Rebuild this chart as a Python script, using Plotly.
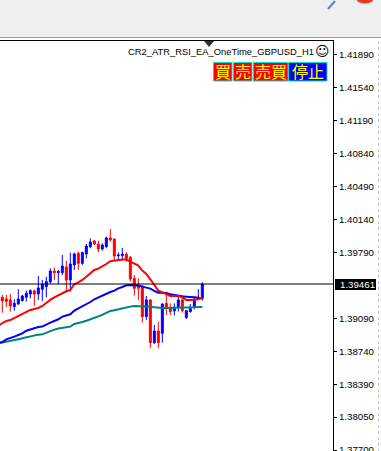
import plotly.graph_objects as go

tick_vals = [1.41890, 1.41540, 1.41190, 1.40840, 1.40490, 1.40140, 1.39790, 1.39090, 1.38740, 1.38390, 1.38050, 1.37700]
last_price = 1.39461
title_text = "CR2_ATR_RSI_EA_OneTime_GBPUSD_H1"

high = [1.39345,1.39345,1.39355,1.39299,1.39405,1.39345,1.39391,1.39405,1.39405,1.39546,
        1.39504,1.39539,1.39627,1.39634,1.39610,1.39769,1.39709,1.39794,1.39794,1.39804,
        1.39804,1.39885,1.39946,1.39928,1.39921,1.39893,1.39963,1.40045,1.39939,1.39797,
        1.39843,1.39797,1.39758,1.39557,1.39521,1.39451,1.39334,1.39299,1.39026,1.39062,
        1.39256,1.39355,1.39256,1.39256,1.39334,1.39320,1.39186,1.39249,1.39320,1.39408,1.39479]
low = [1.39157,1.39214,1.39168,1.39178,1.39239,1.39274,1.39274,1.39309,1.39228,1.39292,
       1.39281,1.39320,1.39468,1.39504,1.39461,1.39557,1.39380,1.39380,1.39610,1.39610,
       1.39663,1.39733,1.39840,1.39875,1.39797,1.39815,1.39840,1.39910,1.39716,1.39723,
       1.39723,1.39698,1.39486,1.39338,1.39292,1.39051,1.39080,1.38779,1.38825,1.38779,
       1.38839,1.39133,1.39133,1.39125,1.39168,1.39157,1.39090,1.39157,1.39193,1.39292,1.39285]
open_ = [1.39320,1.39302,1.39292,1.39221,1.39249,1.39285,1.39320,1.39355,1.39387,1.39355,
         1.39405,1.39433,1.39482,1.39599,1.39581,1.39581,1.39642,1.39504,1.39663,1.39786,
         1.39680,1.39779,1.39857,1.39917,1.39885,1.39832,1.39857,1.39949,1.39939,1.39762,
         1.39762,1.39779,1.39744,1.39521,1.39451,1.39440,1.39115,1.39292,1.38839,1.38963,
         1.38938,1.39256,1.39203,1.39175,1.39214,1.39292,1.39104,1.39168,1.39221,1.39306,1.39309]
close = [1.39281,1.39277,1.39228,1.39256,1.39302,1.39334,1.39362,1.39391,1.39355,1.39419,
         1.39461,1.39486,1.39599,1.39581,1.39592,1.39652,1.39504,1.39673,1.39779,1.39680,
         1.39794,1.39864,1.39907,1.39885,1.39832,1.39875,1.39949,1.39928,1.39758,1.39769,
         1.39779,1.39733,1.39514,1.39415,1.39415,1.39115,1.39292,1.38839,1.38963,1.38839,
         1.39249,1.39214,1.39168,1.39214,1.39292,1.39178,1.39178,1.39200,1.39285,1.39320,1.39461]
# moving averages carry one extra bar on the left, whose candle sits off the chart
ma_red = [1.39020,1.39044,1.39069,1.39079,1.39101,1.39122,1.39140,1.39164,1.39186,1.39196,1.39207,
          1.39228,1.39263,1.39292,1.39320,1.39341,1.39369,1.39384,1.39398,1.39458,1.39479,
          1.39504,1.39539,1.39574,1.39610,1.39624,1.39645,1.39673,1.39702,1.39712,1.39716,
          1.39719,1.39723,1.39698,1.39680,1.39656,1.39603,1.39567,1.39511,1.39451,1.39391,
          1.39373,1.39355,1.39334,1.39334,1.39334,1.39320,1.39292,1.39292,1.39292,1.39299,1.39320]
ma_blue = [1.38835,1.38846,1.38874,1.38885,1.38903,1.38920,1.38938,1.38966,1.38981,1.38991,1.39005,
           1.39009,1.39026,1.39051,1.39069,1.39087,1.39115,1.39125,1.39140,1.39178,1.39200,
           1.39221,1.39246,1.39270,1.39299,1.39320,1.39334,1.39359,1.39376,1.39391,1.39415,
           1.39429,1.39447,1.39451,1.39451,1.39444,1.39433,1.39422,1.39412,1.39387,1.39369,
           1.39369,1.39366,1.39352,1.39345,1.39330,1.39330,1.39327,1.39320,1.39320,1.39316,1.39306]
ma_teal = [1.38832,1.38839,1.38850,1.38860,1.38867,1.38874,1.38885,1.38896,1.38903,1.38917,1.38924,
           1.38927,1.38945,1.38966,1.38977,1.38988,1.38995,1.39002,1.39009,1.39037,1.39044,
           1.39058,1.39072,1.39087,1.39101,1.39111,1.39133,1.39154,1.39175,1.39182,1.39193,
           1.39200,1.39207,1.39221,1.39228,1.39228,1.39228,1.39224,1.39221,1.39214,1.39207,
           1.39207,1.39207,1.39207,1.39207,1.39210,1.39210,1.39210,1.39214,1.39214,1.39217,1.39217]

x = list(range(len(close)))
ma_x = list(range(-1, len(close)))
BLUE, RED, TEAL = "#0000ff", "#ff0000", "#008080"
FONT = "Liberation Sans"

W, H = 381, 451
L, R, T, B = 0, 333, 41, 451
def px(v): return (v - L) / (R - L)
def py(v): return (B - v) / (B - T)

fig = go.Figure()
fig.add_trace(go.Candlestick(
    x=x, open=open_, high=high, low=low, close=close,
    increasing=dict(line=dict(color=BLUE, width=1), fillcolor=BLUE),
    decreasing=dict(line=dict(color=RED, width=1), fillcolor=RED),
    whiskerwidth=0, hoverinfo="skip", showlegend=False))
for vals, col in ((ma_teal, TEAL), (ma_blue, BLUE), (ma_red, RED)):
    fig.add_trace(go.Scatter(x=ma_x, y=vals, mode="lines", line=dict(color=col, width=2),
                             hoverinfo="skip", showlegend=False))

shapes = [
    dict(type="rect", xref="paper", yref="paper", x0=0, x1=px(W), y0=py(0), y1=py(37),
         fillcolor="#efefef", line=dict(width=0), layer="below"),
    dict(type="line", xref="paper", yref="paper", x0=0, x1=px(W), y0=py(37.5), y1=py(37.5),
         line=dict(color="#a0a0a0", width=1)),
    dict(type="line", xref="paper", yref="y", x0=0, x1=1, y0=last_price, y1=last_price,
         line=dict(color="#000000", width=1)),
    dict(type="rect", xref="paper", yref="paper", x0=px(335), x1=px(376), y0=py(279), y1=py(290),
         fillcolor="#000000", line=dict(width=0)),
    dict(type="line", xref="paper", yref="paper", x0=px(378.5), x1=px(378.5), y0=py(41), y1=py(451),
         line=dict(color="#c8c8c8", width=1, dash="dot")),
    dict(type="path", xref="paper", yref="paper",
         path=f"M {px(204)} {py(41)} L {px(214)} {py(41)} L {px(209)} {py(47)} Z",
         fillcolor="#303030", line=dict(width=0)),
    dict(type="line", xref="paper", yref="paper", x0=px(328), x1=px(335), y0=py(9), y1=py(1),
         line=dict(color="#5b86c8", width=2)),
    dict(type="circle", xref="paper", yref="paper", x0=px(356), x1=px(374), y0=py(-8), y1=py(4),
         fillcolor="#e03a25", line=dict(color="#c9c9c9", width=1)),
]
annotations = [
    dict(text=title_text, xref="paper", yref="paper", x=px(316), y=py(51), xanchor="right", yanchor="middle",
         showarrow=False, font=dict(family=FONT, size=9.4, color="#000000")),
    dict(text="☺", xref="paper", yref="paper", x=px(322), y=py(51), xanchor="center", yanchor="middle",
         showarrow=False, font=dict(family="DejaVu Sans", size=14, color="#000000")),
    dict(text=f"{last_price:.5f}", xref="paper", yref="paper", x=px(338), y=py(284.5), xanchor="left", yanchor="middle",
         showarrow=False, font=dict(family=FONT, size=9.7, color="#ffffff")),
]
buttons = [("買", 213.5, 232, RED), ("売", 233.5, 252, RED), ("売買", 253.5, 288, RED), ("停止", 288.5, 327, BLUE)]
for label, x0, x1, fill in buttons:
    shapes.append(dict(type="rect", xref="paper", yref="paper", x0=px(x0), x1=px(x1), y0=py(62.5), y1=py(81),
                       fillcolor=fill, line=dict(color="#00e0e0", width=1)))
    annotations.append(dict(text=label, xref="paper", yref="paper", x=px((x0 + x1) / 2), y=py(71.5),
                            xanchor="center", yanchor="middle", showarrow=False,
                            font=dict(family="Noto Sans CJK JP", size=16, color="#ffff00")))
for hx in (212, 232, 252, 287):
    shapes.append(dict(type="rect", xref="paper", yref="paper", x0=px(hx), x1=px(hx + 2), y0=py(60.5), y1=py(62.5),
                       fillcolor="#ffff00", line=dict(width=0)))

fig.update_layout(
    width=W, height=H, autosize=False,
    margin=dict(l=L, r=W - R, t=T, b=H - B, pad=0),
    paper_bgcolor="#ffffff", plot_bgcolor="#ffffff",
    shapes=shapes, annotations=annotations, showlegend=False,
    font=dict(family=FONT, size=9.7, color="#000000"),
    xaxis=dict(range=[-0.58, 82.67], side="top", showline=True, linecolor="#000000", linewidth=1,
               showgrid=False, zeroline=False, showticklabels=False, ticks="",
               rangeslider=dict(visible=False), fixedrange=True),
    yaxis=dict(range=[1.37690, 1.42038], side="right", showline=True, linecolor="#000000", linewidth=1,
               showgrid=False, zeroline=False, tickmode="array", tickvals=tick_vals,
               ticktext=[f"{v:.5f}" for v in tick_vals], ticks="outside", ticklen=3, tickcolor="#000000",
               ticklabeloverflow="allow", automargin=False,
               tickfont=dict(family=FONT, size=9.7, color="#000000"), fixedrange=True),
)
fig.write_html("out.html", config={"displayModeBar": False},
               post_script="document.body.style.margin='0';")
